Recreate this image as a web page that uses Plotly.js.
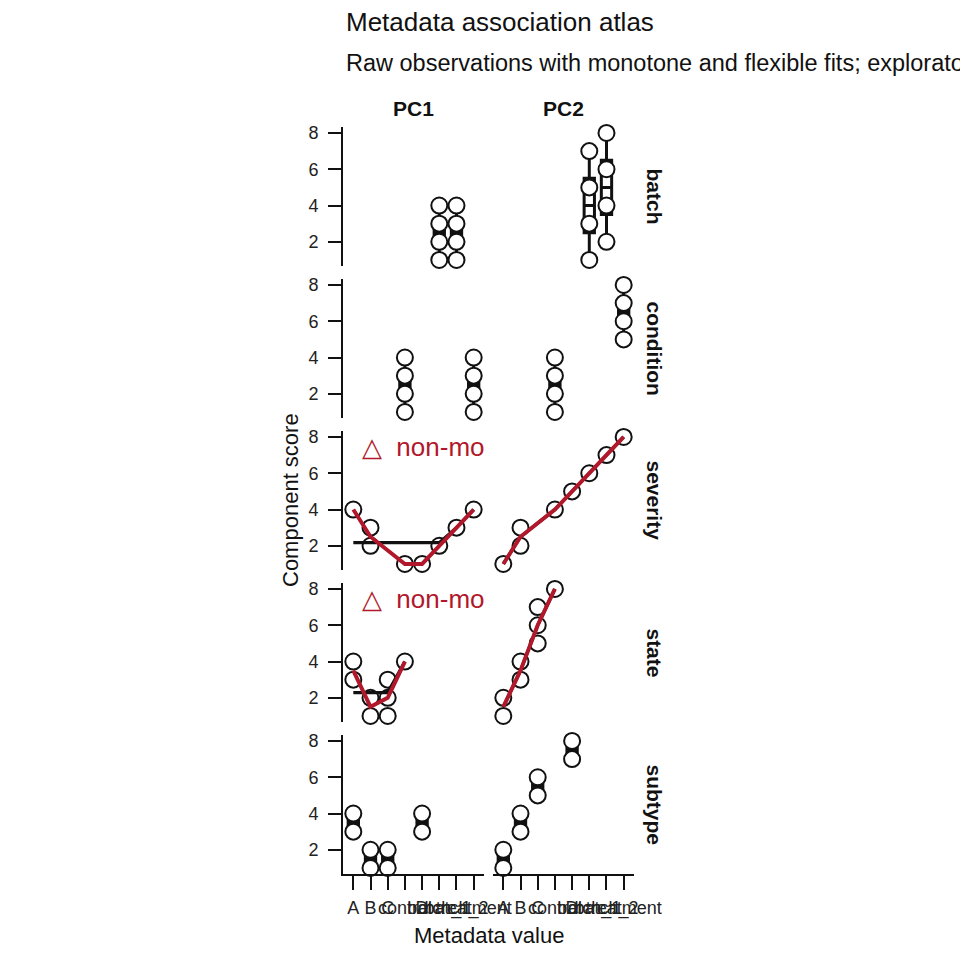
<!DOCTYPE html>
<html>
<head>
<meta charset="utf-8">
<script src="https://cdn.plot.ly/plotly-3.0.1.min.js"></script>
<style>
  html, body { margin: 0; padding: 0; background: #fff; }
  #chart { width: 960px; height: 960px; }
</style>
</head>
<body>
<div id="chart"></div>
<script>
// tick labels of the shared metadata axis, in drawing order
var categories = ["A", "B", "C", "control", "D", "batch_1", "batch_2", "treatment"];
var components = ["PC1", "PC2"];
var metadata = ["batch", "condition", "severity", "state", "subtype"];

// raw observations
var batchGroup = ["batch_1", "batch_1", "batch_1", "batch_1", "batch_2", "batch_2", "batch_2", "batch_2"];
var batchPC1 = [1, 2, 3, 4, 1, 2, 3, 4];
var batchPC2 = [1, 3, 5, 7, 2, 4, 6, 8];

var conditionGroup = ["control", "control", "control", "control", "treatment", "treatment", "treatment", "treatment"];
var conditionPC1 = [1, 2, 3, 4, 1, 2, 3, 4];
var conditionPC2 = [1, 2, 3, 4, 5, 6, 7, 8];

var severityValue = [1, 2, 2, 4, 5, 6, 7, 8];
var severityPC1 = [4, 3, 2, 1, 1, 2, 3, 4];
var severityPC2 = [1, 3, 2, 4, 5, 6, 7, 8];

var stateValue = [1, 1, 2, 2, 3, 3, 3, 4];
var statePC1 = [4, 3, 2, 1, 3, 2, 1, 4];
var statePC2 = [1, 2, 3, 4, 5, 6, 7, 8];

var subtypeGroup = ["A", "A", "B", "B", "C", "C", "D", "D"];
var subtypePC1 = [4, 3, 1, 2, 1, 2, 3, 4];
var subtypePC2 = [1, 2, 3, 4, 5, 6, 7, 8];

// fitted curves
var severityFitX = [1, 2, 4, 5, 6, 7, 8];
var severityFlexPC1 = [4, 2.5, 1, 1, 2, 3, 4];
var severityMonoPC1 = [2.17, 2.17, 2.17, 2.17, 2.17, 3, 4];
var severityFlexPC2 = [1, 2.5, 4, 5, 6, 7, 8];
var severityMonoPC2 = [1, 2.5, 4, 5, 6, 7, 8];

var stateFitX = [1, 2, 3, 4];
var stateFlexPC1 = [3.5, 1.5, 2, 4];
var stateMonoPC1 = [2.29, 2.29, 2.29, 4];
var stateFlexPC2 = [1.5, 3.5, 6, 8];
var stateMonoPC2 = [1.5, 3.5, 6, 8];

var flagText = "\u25B3  non-monotone";

var RED = "#B2182B";
var INK = "#111111";
var FONT = "Liberation Sans, Arial, Helvetica, sans-serif";

// panel geometry in pixels
var colLeft = [343, 493], colWidth = 141;
var rowTop = 126.6, rowHeight = 139.7, rowStep = 152;

function px(x) { return x / 960; }
function py(y) { return 1 - y / 960; }

function catPos(names) {
    return names.map(function (n) { return categories.indexOf(n) + 1; });
}

function quantile(sorted, p) {
    var h = (sorted.length - 1) * p, lo = Math.floor(h), hi = Math.ceil(h);
    return sorted[lo] + (h - lo) * (sorted[hi] - sorted[lo]);
}

function boxStats(xs, ys) {
    var groups = {};
    xs.forEach(function (x, i) { (groups[x] = groups[x] || []).push(ys[i]); });
    var out = { x: [], q1: [], median: [], q3: [], lowerfence: [], upperfence: [] };
    Object.keys(groups).forEach(function (k) {
        var v = groups[k].slice().sort(function (a, b) { return a - b; });
        out.x.push(+k);
        out.q1.push(quantile(v, 0.25));
        out.median.push(quantile(v, 0.5));
        out.q3.push(quantile(v, 0.75));
        out.lowerfence.push(v[0]);
        out.upperfence.push(v[v.length - 1]);
    });
    return out;
}

var panels = [
    { kind: "group", x: catPos(batchGroup), y: [batchPC1, batchPC2] },
    { kind: "group", x: catPos(conditionGroup), y: [conditionPC1, conditionPC2] },
    { kind: "fit", x: severityValue, y: [severityPC1, severityPC2], fitX: severityFitX,
      flex: [severityFlexPC1, severityFlexPC2], mono: [severityMonoPC1, severityMonoPC2], flag: [true, false] },
    { kind: "fit", x: stateValue, y: [statePC1, statePC2], fitX: stateFitX,
      flex: [stateFlexPC1, stateFlexPC2], mono: [stateMonoPC1, stateMonoPC2], flag: [true, false] },
    { kind: "group", x: catPos(subtypeGroup), y: [subtypePC1, subtypePC2] }
];

var traces = [];
var layout = {
    width: 960, height: 960,
    margin: { l: 0, r: 0, t: 0, b: 0 },
    paper_bgcolor: "#fff", plot_bgcolor: "#fff",
    showlegend: false,
    font: { family: FONT, color: INK },
    annotations: []
};

panels.forEach(function (p, r) {
    components.forEach(function (pc, c) {
        var k = r * 2 + c + 1;
        var xa = k === 1 ? "x" : "x" + k, ya = k === 1 ? "y" : "y" + k;
        var xName = k === 1 ? "xaxis" : "xaxis" + k, yName = k === 1 ? "yaxis" : "yaxis" + k;
        var top = rowTop + r * rowStep;
        var bottom = r === panels.length - 1;

        layout[xName] = {
            domain: [px(colLeft[c]), px(colLeft[c] + colWidth)],
            anchor: ya, range: [0.4, 8.6],
            showgrid: false, zeroline: false,
            showline: bottom, linecolor: INK, linewidth: 2,
            ticks: bottom ? "outside" : "", ticklen: 14, tickwidth: 2, tickcolor: INK,
            tickvals: [1, 2, 3, 4, 5, 6, 7, 8], ticktext: categories, tickangle: 0,
            showticklabels: bottom, ticklabelstandoff: 2,
            tickfont: { size: 18, color: "#222" }
        };
        layout[yName] = {
            domain: [py(top + rowHeight), py(top)],
            anchor: xa, range: [0.65, 8.35],
            showgrid: false, zeroline: false,
            showline: c === 0, linecolor: INK, linewidth: 2,
            ticks: c === 0 ? "outside" : "", ticklen: 13, tickwidth: 2, tickcolor: INK,
            tickvals: [2, 4, 6, 8], showticklabels: c === 0, ticklabelstandoff: 6,
            tickfont: { size: 18, color: "#222" }
        };

        if (p.kind === "group") {
            var s = boxStats(p.x, p.y[c]);
            traces.push({
                type: "box", xaxis: xa, yaxis: ya,
                x: s.x, q1: s.q1, median: s.median, q3: s.q3,
                lowerfence: s.lowerfence, upperfence: s.upperfence,
                width: 0.6, whiskerwidth: 0, boxpoints: false,
                fillcolor: "#fff", line: { color: INK, width: 3 },
                hoverinfo: "skip"
            });
        }

        traces.push({
            type: "scatter", mode: "markers", xaxis: xa, yaxis: ya,
            x: p.x, y: p.y[c], cliponaxis: false,
            marker: { size: 16, color: "#fff", line: { color: INK, width: 2 } },
            hoverinfo: "x+y"
        });

        if (p.kind === "fit") {
            traces.push({
                type: "scatter", mode: "lines", xaxis: xa, yaxis: ya,
                x: p.fitX, y: p.mono[c], line: { color: INK, width: 3.2 }, hoverinfo: "skip"
            });
            traces.push({
                type: "scatter", mode: "lines", xaxis: xa, yaxis: ya,
                x: p.fitX, y: p.flex[c], line: { color: RED, width: 4 }, hoverinfo: "skip"
            });
            if (p.flag[c]) {
                traces.push({
                    type: "scatter", mode: "text", xaxis: xa, yaxis: ya,
                    x: [1.5], y: [7.3], text: [flagText], textposition: "middle right",
                    cliponaxis: true, textfont: { size: 26, color: RED, family: FONT },
                    hoverinfo: "skip"
                });
            }
        }
    });

    // facet row strip
    layout.annotations.push({
        xref: "paper", yref: "paper", x: px(655), y: py(rowTop + r * rowStep + rowHeight / 2),
        text: "<b>" + metadata[r] + "</b>", textangle: 90, showarrow: false,
        xanchor: "center", yanchor: "middle", font: { size: 21, color: INK }
    });
});

// column strips
components.forEach(function (pc, c) {
    layout.annotations.push({
        xref: "paper", yref: "paper", x: px(colLeft[c] + colWidth / 2), y: py(108),
        text: "<b>" + pc + "</b>", showarrow: false,
        xanchor: "center", yanchor: "middle", font: { size: 21, color: INK }
    });
});

layout.annotations.push(
    { xref: "paper", yref: "paper", x: px(344), y: py(22), xanchor: "left", yanchor: "middle",
      text: "Metadata association atlas", showarrow: false, font: { size: 26, color: INK } },
    { xref: "paper", yref: "paper", x: px(344), y: py(63), xanchor: "left", yanchor: "middle",
      text: "Raw observations with monotone and flexible fits; exploratory screen only", showarrow: false,
      font: { size: 23.5, color: INK } },
    { xref: "paper", yref: "paper", x: px(290), y: py(500), xanchor: "center", yanchor: "middle",
      text: "Component score", textangle: -90, showarrow: false, font: { size: 22, color: INK } },
    { xref: "paper", yref: "paper", x: px(489), y: py(935), xanchor: "center", yanchor: "middle",
      text: "Metadata value", showarrow: false, font: { size: 22, color: INK } }
);

Plotly.newPlot("chart", traces, layout, { displayModeBar: false, staticPlot: true });
</script>
</body>
</html>
